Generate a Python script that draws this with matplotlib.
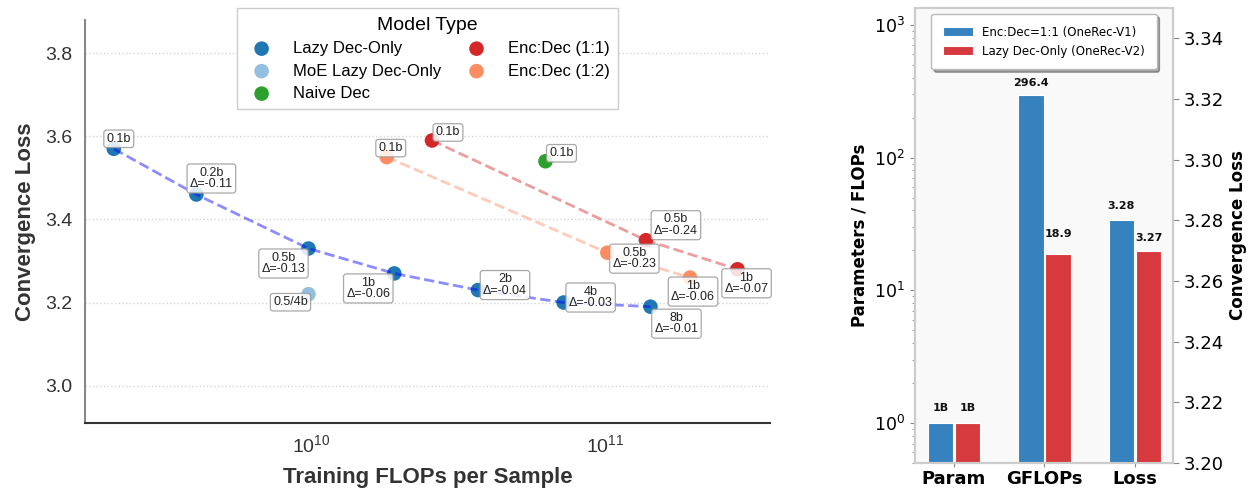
import numpy as np
import matplotlib
matplotlib.use("Agg")
from matplotlib import pyplot as plt
from matplotlib.ticker import FuncFormatter, LogLocator, NullLocator

# ---- left panel data: training FLOPs per sample vs convergence loss ----
lazy_flops = [2.13e9, 4.07e9, 9.8e9, 1.92e10, 3.7e10, 7.24e10, 1.43e11]
lazy_loss = [3.57, 3.46, 3.33, 3.27, 3.23, 3.20, 3.19]
lazy_sizes = ['0.1b', '0.2b', '0.5b', '1b', '2b', '4b', '8b']

moe_flops = [9.8e9]
moe_loss = [3.22]
moe_sizes = ['0.5/4b']

naive_flops = [6.28e10]
naive_loss = [3.54]
naive_sizes = ['0.1b']

ed11_flops = [2.58e10, 1.38e11, 2.83e11]
ed11_loss = [3.59, 3.35, 3.28]
ed11_sizes = ['0.1b', '0.5b', '1b']

ed12_flops = [1.81e10, 1.02e11, 1.95e11]
ed12_loss = [3.55, 3.32, 3.26]
ed12_sizes = ['0.1b', '0.5b', '1b']

# ---- right panel data ----
metrics = ['Param', 'GFLOPs', 'Loss']
v1_vals = [1, 296.4, 3.28]
v2_vals = [1, 18.9, 3.27]
v1_text = ['1B', '296.4', '3.28']
v2_text = ['1B', '18.9', '3.27']

ARIAL = ['Liberation Sans', 'DejaVu Sans']

fig = plt.figure(figsize=(12.52, 4.91), dpi=100)

# ================= left panel =================
ax = fig.add_axes([85/1252, 68/491, 685/1252, 403/491])
ax.set_xscale('log')

series = [
    ('Lazy Dec-Only', lazy_flops, lazy_loss, lazy_sizes, '#1f77b4', 'blue',
     [(5, 10), (15, 16), (-25, -15), (-26, -15), (27, 5), (27, 5), (26, -17)]),
    ('MoE Lazy Dec-Only', moe_flops, moe_loss, moe_sizes, '#93bfe0', None,
     [(-18, -8)]),
    ('Naive Dec', naive_flops, naive_loss, naive_sizes, '#2ca02c', None,
     [(16, 8)]),
    ('Enc:Dec (1:1)', ed11_flops, ed11_loss, ed11_sizes, '#d62728', '#d62728',
     [(16, 8), (30, 15), (9, -14)]),
    ('Enc:Dec (1:2)', ed12_flops, ed12_loss, ed12_sizes, '#fc8d62', '#fc8d62',
     [(4, 9), (27, -6), (3, -14)]),
]

handles = []
for name, fx, fy, sizes, col, lcol, offs in series:
    h = ax.scatter(fx, fy, s=110, color=col, edgecolors='none', zorder=3, label=name)
    handles.append(h)
    if lcol is not None and len(fx) > 1:
        ax.plot(fx, fy, linestyle='--', color=lcol, alpha=0.45, lw=2, zorder=4)
    for i in range(len(fx)):
        if i == 0:
            txt = sizes[i]
        else:
            txt = f"{sizes[i]}\n\u0394={fy[i] - fy[i-1]:.2f}"
        ax.annotate(txt, (fx[i], fy[i]), xytext=offs[i], textcoords='offset pixels',
                    ha='center', va='center', multialignment='center', linespacing=0.95,
                    fontsize=9, family=ARIAL, color='#222222', zorder=6,
                    bbox=dict(boxstyle='round,pad=0.22', fc='white', ec='#999999',
                              lw=0.9, alpha=0.85))

leg = ax.legend(handles, [s[0] for s in series],
                title='Model Type', ncol=2, loc='upper center',
                bbox_to_anchor=(0.5, 1.05),
                prop={'family': ARIAL, 'size': 12}, frameon=True, fancybox=False,
                edgecolor='#cccccc', framealpha=1, columnspacing=1.1,
                handletextpad=0.9, borderpad=0.5, labelspacing=0.45)
leg.get_title().set_family(ARIAL)
leg.get_title().set_fontsize(14)
leg.set_zorder(10)

ax.set_xlim(1.7e9, 3.65e11)
ax.set_ylim(2.91, 3.88)
ax.set_yticks([3.0, 3.2, 3.4, 3.6, 3.8])
ax.yaxis.grid(True, linestyle=':', color='#d5d5d5', lw=1)
ax.set_axisbelow(True)
ax.xaxis.set_major_locator(LogLocator(base=10))
ax.xaxis.set_minor_locator(NullLocator())
ax.xaxis.set_major_formatter(FuncFormatter(lambda v, p: r'$\mathregular{10^{%d}}$' % round(np.log10(v))))
ax.tick_params(axis='both', which='both', length=0, labelsize=14, colors='#333333')
ax.tick_params(axis='y', pad=9)
ax.tick_params(axis='x', pad=8)
for lab in ax.get_xticklabels() + ax.get_yticklabels():
    lab.set_family(ARIAL)
ax.spines['top'].set_visible(False)
ax.spines['right'].set_visible(False)
ax.spines['left'].set_color('#888888')
ax.spines['bottom'].set_color('#333333')
ax.spines['left'].set_linewidth(1.5)
ax.spines['bottom'].set_linewidth(1.5)
ax.set_xlabel('Training FLOPs per Sample', fontsize=16, fontweight='bold',
              family=ARIAL, color='#333333', labelpad=8)
ax.set_ylabel('Convergence Loss', fontsize=16, fontweight='bold',
              family=ARIAL, color='#333333', labelpad=7)

# ================= right panel =================
blue = '#3682be'
red = '#d63a3e'
axr = fig.add_axes([915/1252, 28/491, 258/1252, 455/491])
axr.set_facecolor('#f9f9f9')
axr.set_yscale('log')
axl = axr.twinx()

x = np.arange(len(metrics))
w = 0.28
off = 0.15
b1 = axr.bar(x[:2] - off, v1_vals[:2], w, color=blue, edgecolor='white', lw=0.8,
             label='Enc:Dec=1:1 (OneRec-V1)')
b2 = axr.bar(x[:2] + off, v2_vals[:2], w, color=red, edgecolor='white', lw=0.8,
             label='Lazy Dec-Only (OneRec-V2)')
axl.bar(x[2] - off, v1_vals[2], w, bottom=0, color=blue, edgecolor='white', lw=0.8)
axl.bar(x[2] + off, v2_vals[2], w, bottom=0, color=red, edgecolor='white', lw=0.8)

axr.set_ylim(0.5, 1340)
axl.set_ylim(3.20, 3.35)
axr.set_xlim(-0.43, 2.42)
loss_ticks = [3.20, 3.22, 3.24, 3.26, 3.28, 3.30, 3.32, 3.34]
axl.set_yticks(loss_ticks)
axl.set_yticklabels(['%.2f' % t for t in loss_ticks])

text_offs_v1 = [15, 12, 14]
text_offs_v2 = [15, 20, 13]
for i in range(len(metrics)):
    target = axr if i < 2 else axl
    target.annotate(v1_text[i], (x[i] - off, v1_vals[i]), xytext=(0, text_offs_v1[i]),
                    textcoords='offset pixels', ha='center', va='center',
                    fontsize=8, fontweight='bold', color='#111111')
    target.annotate(v2_text[i], (x[i] + off, v2_vals[i]), xytext=(0, text_offs_v2[i]),
                    textcoords='offset pixels', ha='center', va='center',
                    fontsize=8, fontweight='bold', color='#111111')

axr.set_xticks(x)
axr.set_xticklabels(metrics, fontsize=13, fontweight='bold')
axr.tick_params(axis='x', length=3, color='#888888', pad=2)
axr.tick_params(axis='y', which='major', length=3.5, color='#888888', labelsize=12.5)
axr.tick_params(axis='y', which='minor', length=2, color='#888888')
axl.tick_params(axis='y', length=4, color='#888888', labelsize=13)
axr.set_ylabel('Parameters / FLOPs', fontsize=12, fontweight='bold', labelpad=4)
axl.set_ylabel('Convergence Loss', fontsize=12, fontweight='bold', labelpad=4)
for a in (axr, axl):
    for s in a.spines.values():
        s.set_color('#cccccc')
        s.set_linewidth(1.5)

lg = axl.legend(handles=[b1, b2], loc='upper center', bbox_to_anchor=(0.5, 1.0),
                fontsize=8.5, frameon=True, fancybox=True, shadow=True,
                edgecolor='#bbbbbb', framealpha=1, borderpad=1.0, handlelength=2.5)

plt.savefig('out.png', dpi=100)
